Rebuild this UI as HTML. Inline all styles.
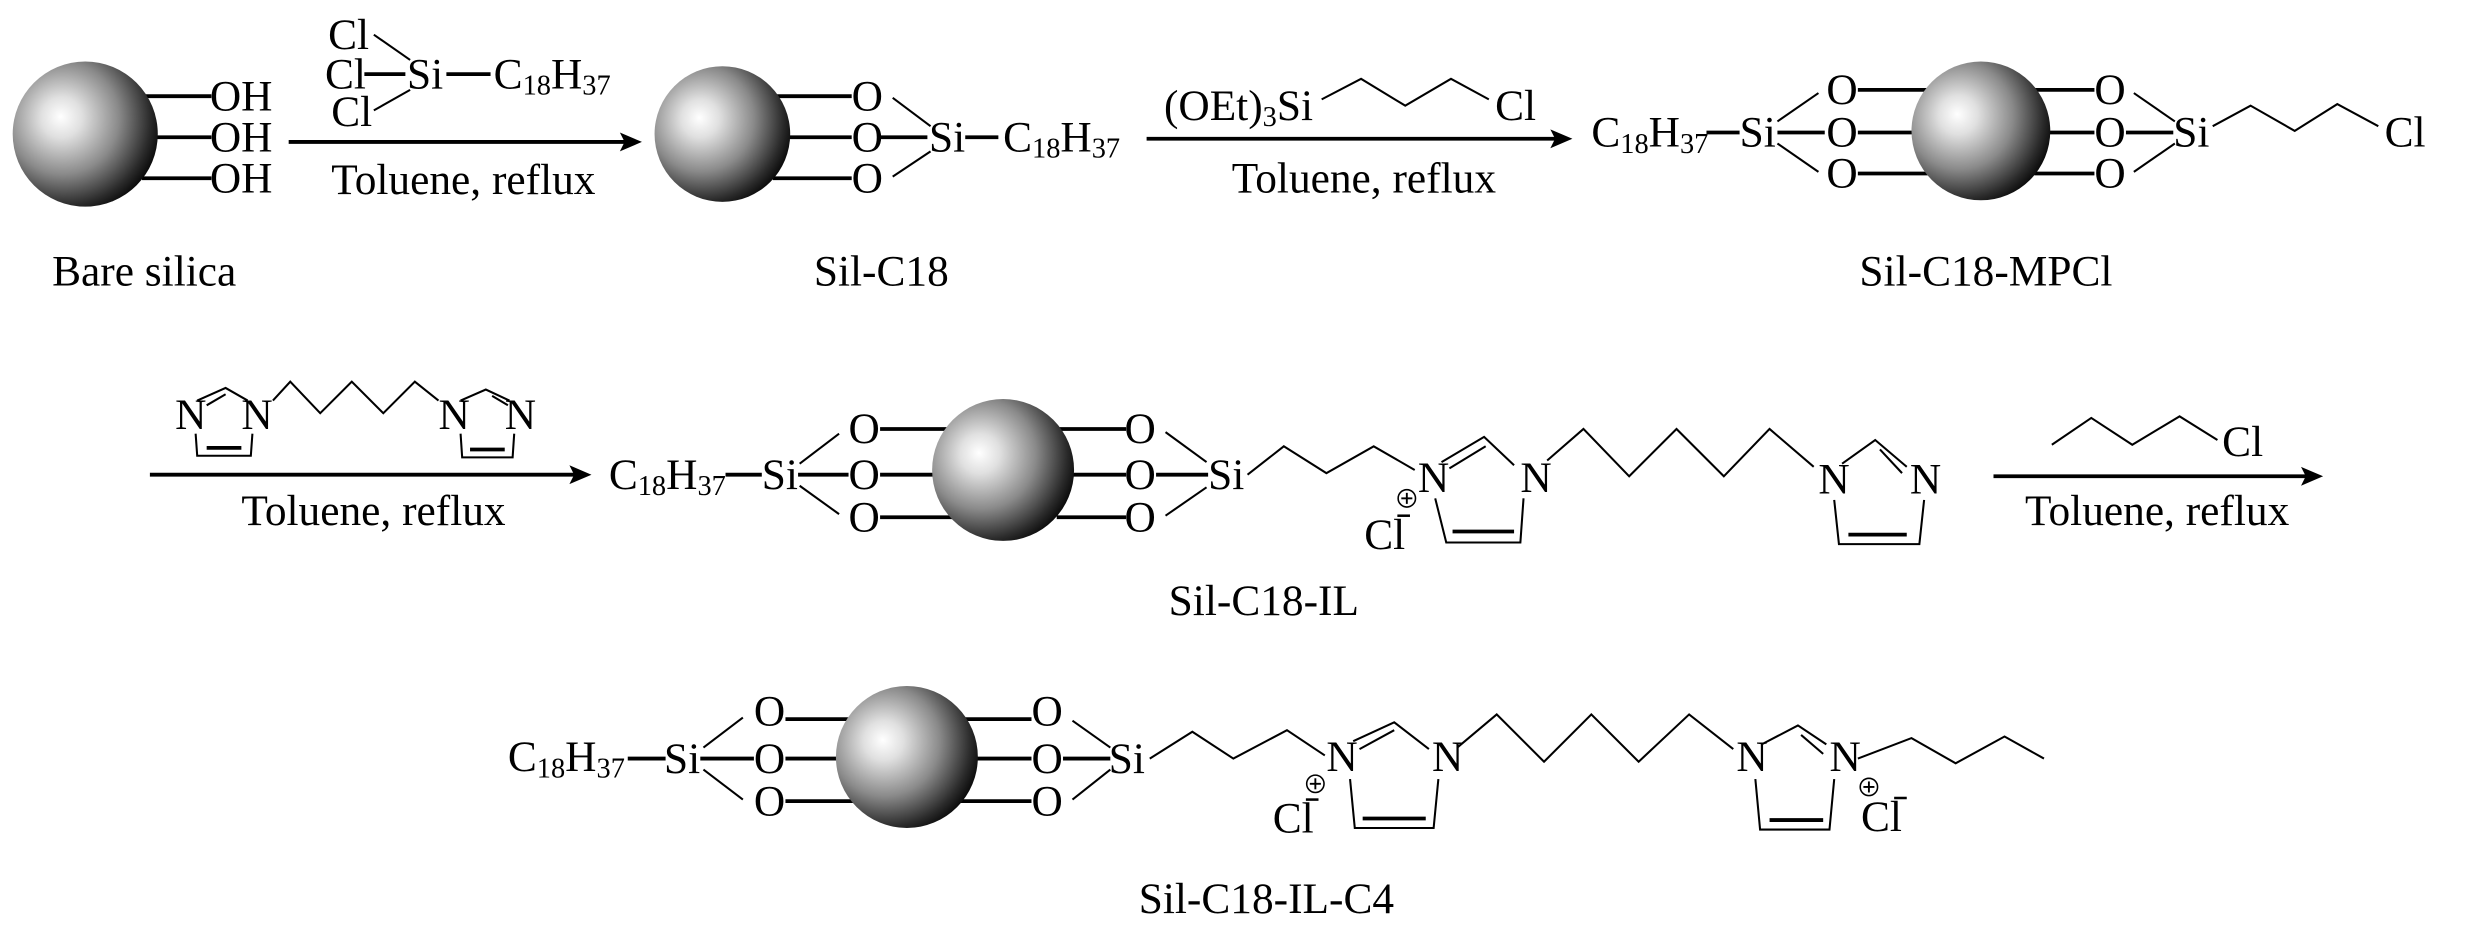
<!DOCTYPE html>
<html><head><meta charset="utf-8"><style>
html,body{margin:0;padding:0;background:#fff;}
svg{display:block;}
text{font-family:"Liberation Serif",serif;font-size:27.5px;fill:#000;}
.s{font-size:18px;}
.t{stroke:#000;stroke-width:1.3;fill:none;}
.b{stroke:#000;stroke-width:2.4;fill:none;}
</style></head><body>
<svg width="2473" height="930" viewBox="0 0 1568 589.7" xmlns="http://www.w3.org/2000/svg">
<defs>
<radialGradient id="g" cx="0.36" cy="0.4" r="0.7" fx="0.33" fy="0.38">
<stop offset="0" stop-color="#ffffff"/>
<stop offset="0.2" stop-color="#e0e0e0"/>
<stop offset="0.55" stop-color="#8a8a8a"/>
<stop offset="0.85" stop-color="#2a2a2a"/>
<stop offset="1" stop-color="#000"/>
</radialGradient>
</defs>

<!-- ROW 1: Bare silica -->
<g class="b"><line x1="90" y1="61" x2="134" y2="61"/><line x1="95" y1="87" x2="134" y2="87"/><line x1="90" y1="113" x2="134" y2="113"/></g>
<circle cx="54" cy="85" r="46" fill="url(#g)"/>
<text x="133" y="70">OH</text><text x="133" y="96">OH</text><text x="133" y="122">OH</text>
<text x="33" y="181">Bare silica</text>

<!-- arrow 1 -->
<line class="b" x1="183" y1="90" x2="398" y2="90"/><polygon points="407,90 393,84 396,90 393,96"/>
<text x="208" y="31">Cl</text>
<text x="206" y="56">Cl</text>
<text x="258" y="56">Si</text>
<text x="210" y="80">Cl</text>
<line class="b" x1="231" y1="47" x2="257" y2="47"/>
<line class="b" x1="283" y1="47" x2="311" y2="47"/>
<line class="t" x1="237" y1="22" x2="260" y2="38"/>
<line class="t" x1="260" y1="57" x2="237" y2="70"/>
<text x="313" y="56">C<tspan class="s" dy="4">18</tspan><tspan dy="-4">H</tspan><tspan class="s" dy="4">37</tspan></text>
<text x="210" y="123">Toluene, reflux</text>

<!-- Sil-C18 -->
<g class="b"><line x1="490" y1="61" x2="540" y2="61"/><line x1="495" y1="87" x2="540" y2="87"/><line x1="490" y1="113" x2="540" y2="113"/></g>
<circle cx="458" cy="85" r="43" fill="url(#g)"/>
<text x="540" y="70">O</text><text x="540" y="96">O</text><text x="540" y="122">O</text>
<line class="t" x1="566" y1="62" x2="590" y2="80"/>
<line class="t" x1="566" y1="112" x2="590" y2="96"/>
<line class="b" x1="558" y1="87" x2="588" y2="87"/>
<text x="589" y="96">Si</text>
<line class="b" x1="612" y1="87" x2="633" y2="87"/>
<text x="636" y="96">C<tspan class="s" dy="4">18</tspan><tspan dy="-4">H</tspan><tspan class="s" dy="4">37</tspan></text>
<text x="516" y="181">Sil-C18</text>

<!-- arrow 2 -->
<line class="b" x1="727" y1="88" x2="988" y2="88"/><polygon points="997,88 983,82 986,88 983,94"/>
<text x="738" y="76">(OEt)<tspan class="s" dy="4">3</tspan><tspan dy="-4">Si</tspan></text>
<polyline class="t" points="838,63 863,50 891,67 920,50 944,63"/>
<text x="948" y="76">Cl</text>
<text x="781" y="122">Toluene, reflux</text>

<!-- Sil-C18-MPCl -->
<text x="1009" y="93">C<tspan class="s" dy="4">18</tspan><tspan dy="-4">H</tspan><tspan class="s" dy="4">37</tspan></text>
<line class="b" x1="1082" y1="84" x2="1103" y2="84"/>
<text x="1103" y="93">Si</text>
<line class="t" x1="1127" y1="77" x2="1153" y2="59"/>
<line class="t" x1="1127" y1="91" x2="1153" y2="109"/>
<line class="b" x1="1127" y1="84" x2="1157" y2="84"/>
<text x="1158" y="66">O</text><text x="1158" y="93">O</text><text x="1158" y="119">O</text>
<g class="b"><line x1="1178" y1="57" x2="1225" y2="57"/><line x1="1178" y1="84" x2="1225" y2="84"/><line x1="1178" y1="110" x2="1225" y2="110"/>
<line x1="1290" y1="57" x2="1328" y2="57"/><line x1="1290" y1="84" x2="1328" y2="84"/><line x1="1290" y1="110" x2="1328" y2="110"/></g>
<circle cx="1256" cy="83" r="44" fill="url(#g)"/>
<text x="1328" y="66">O</text><text x="1328" y="93">O</text><text x="1328" y="119">O</text>
<line class="t" x1="1353" y1="59" x2="1379" y2="77"/>
<line class="t" x1="1353" y1="109" x2="1379" y2="91"/>
<line class="b" x1="1348" y1="84" x2="1378" y2="84"/>
<text x="1378" y="93">Si</text>
<polyline class="t" points="1403,80 1427,67 1455,83 1482,66 1508,80"/>
<text x="1512" y="93">Cl</text>
<text x="1179" y="181">Sil-C18-MPCl</text>

<!-- ROW 2 -->
<line class="b" x1="95" y1="301" x2="366" y2="301"/><polygon points="375,301 361,295 364,301 361,307"/>
<text x="111" y="272">N</text><text x="153" y="272">N</text>
<polyline class="t" points="125,254 143,246 157,254"/>
<line class="t" x1="131" y1="257" x2="143" y2="250"/>
<polyline class="t" points="124,275 125,289 159,289 160,275"/>
<line class="b" x1="131" y1="284" x2="153" y2="284"/>
<polyline class="t" points="173,254 184,242 203,262 223,242 243,262 263,242 278,254"/>
<text x="278" y="272">N</text><text x="320" y="272">N</text>
<polyline class="t" points="292,254 308,247 323,254"/>
<line class="t" x1="312" y1="251" x2="322" y2="257"/>
<polyline class="t" points="292,275 293,290 325,290 326,275"/>
<line class="b" x1="298" y1="285" x2="320" y2="285"/>
<text x="153" y="333">Toluene, reflux</text>

<!-- Sil-C18-IL -->
<text x="386" y="310">C<tspan class="s" dy="4">18</tspan><tspan dy="-4">H</tspan><tspan class="s" dy="4">37</tspan></text>
<line class="b" x1="460" y1="301" x2="483" y2="301"/>
<text x="483" y="310">Si</text>
<line class="t" x1="507" y1="294" x2="532" y2="275"/>
<line class="t" x1="507" y1="308" x2="532" y2="326"/>
<line class="b" x1="506" y1="301" x2="538" y2="301"/>
<text x="538" y="281">O</text><text x="538" y="310">O</text><text x="538" y="337">O</text>
<g class="b"><line x1="558" y1="272" x2="605" y2="272"/><line x1="558" y1="301" x2="605" y2="301"/><line x1="558" y1="328" x2="605" y2="328"/>
<line x1="670" y1="272" x2="714" y2="272"/><line x1="670" y1="301" x2="714" y2="301"/><line x1="670" y1="328" x2="714" y2="328"/></g>
<circle cx="636" cy="298" r="45" fill="url(#g)"/>
<text x="713" y="281">O</text><text x="713" y="310">O</text><text x="713" y="337">O</text>
<line class="t" x1="739" y1="274" x2="765" y2="293"/>
<line class="t" x1="739" y1="327" x2="765" y2="309"/>
<line class="b" x1="733" y1="301" x2="766" y2="301"/>
<text x="766" y="310">Si</text>
<polyline class="t" points="791,301 814,283 841,300 871,283 897,298"/>
<text x="899" y="312">N</text>
<polyline class="t" points="914,293 941,277 960,295"/>
<line class="t" x1="919" y1="297" x2="942" y2="283"/>
<polyline class="t" points="910,316 917,344 964,344 966,316"/>
<line class="b" x1="921" y1="337" x2="960" y2="337"/>
<text x="964" y="312">N</text>
<circle cx="892" cy="316" r="5.5" fill="none" stroke="#000" stroke-width="1"/>
<line x1="888.5" y1="316" x2="895.5" y2="316" stroke="#000" stroke-width="1.2"/><line x1="892" y1="312.5" x2="892" y2="319.5" stroke="#000" stroke-width="1.2"/>
<text x="865" y="348">Cl</text><line x1="886" y1="327" x2="894" y2="327" stroke="#000" stroke-width="1.6"/>
<polyline class="t" points="981,292 1004,272 1033,302 1063,272 1093,302 1122,272 1150,296"/>
<text x="1153" y="313">N</text>
<polyline class="t" points="1168,294 1189,279 1209,296"/>
<line class="t" x1="1192" y1="285" x2="1206" y2="300"/>
<polyline class="t" points="1163,317 1166,345 1217,345 1220,317"/>
<line class="b" x1="1172" y1="339" x2="1209" y2="339"/>
<text x="1211" y="313">N</text>
<text x="741" y="390">Sil-C18-IL</text>

<!-- arrow 3 -->
<line class="b" x1="1264" y1="302" x2="1464" y2="302"/><polygon points="1473,302 1459,296 1462,302 1459,308"/>
<polyline class="t" points="1301,282 1326,265 1352,282 1382,264 1406,279"/>
<text x="1409" y="289">Cl</text>
<text x="1284" y="333">Toluene, reflux</text>

<!-- ROW 3: Sil-C18-IL-C4 -->
<text x="322" y="489">C<tspan class="s" dy="4">18</tspan><tspan dy="-4">H</tspan><tspan class="s" dy="4">37</tspan></text>
<line class="b" x1="398" y1="481" x2="422" y2="481"/>
<text x="421" y="490">Si</text>
<line class="t" x1="446" y1="474" x2="471" y2="455"/>
<line class="t" x1="446" y1="488" x2="471" y2="507"/>
<line class="b" x1="444" y1="481" x2="478" y2="481"/>
<text x="478" y="460">O</text><text x="478" y="490">O</text><text x="478" y="517">O</text>
<g class="b"><line x1="498" y1="456" x2="545" y2="456"/><line x1="498" y1="481" x2="545" y2="481"/><line x1="498" y1="508" x2="545" y2="508"/>
<line x1="605" y1="456" x2="654" y2="456"/><line x1="605" y1="481" x2="654" y2="481"/><line x1="605" y1="508" x2="654" y2="508"/></g>
<circle cx="575" cy="480" r="45" fill="url(#g)"/>
<text x="654" y="460">O</text><text x="654" y="490">O</text><text x="654" y="517">O</text>
<line class="t" x1="680" y1="457" x2="704" y2="474"/>
<line class="t" x1="680" y1="507" x2="704" y2="488"/>
<line class="b" x1="674" y1="481" x2="704" y2="481"/>
<text x="703" y="490">Si</text>
<polyline class="t" points="729,481 756,464 782,481 816,463 840,479"/>
<text x="841" y="489">N</text>
<polyline class="t" points="858,470 884,458 906,475"/>
<line class="t" x1="862" y1="475" x2="884" y2="463"/>
<polyline class="t" points="856,494 859,525 909,525 912,494"/>
<line class="b" x1="864" y1="519" x2="904" y2="519"/>
<text x="908" y="489">N</text>
<circle cx="834" cy="497" r="5.5" fill="none" stroke="#000" stroke-width="1"/>
<line x1="830.5" y1="497" x2="837.5" y2="497" stroke="#000" stroke-width="1.2"/><line x1="834" y1="493.5" x2="834" y2="500.5" stroke="#000" stroke-width="1.2"/>
<text x="807" y="528">Cl</text><line x1="828" y1="507" x2="836" y2="507" stroke="#000" stroke-width="1.6"/>
<polyline class="t" points="924,474 949,453 979,483 1009,453 1039,483 1071,453 1099,475"/>
<text x="1101" y="489">N</text>
<polyline class="t" points="1117,472 1140,460 1158,472"/>
<line class="t" x1="1142" y1="466" x2="1156" y2="478"/>
<polyline class="t" points="1113,494 1116,526 1160,526 1163,494"/>
<line class="b" x1="1122" y1="520" x2="1156" y2="520"/>
<text x="1160" y="489">N</text>
<circle cx="1185" cy="499" r="5.5" fill="none" stroke="#000" stroke-width="1"/>
<line x1="1181.5" y1="499" x2="1188.5" y2="499" stroke="#000" stroke-width="1.2"/><line x1="1185" y1="495.5" x2="1185" y2="502.5" stroke="#000" stroke-width="1.2"/>
<text x="1180" y="527">Cl</text><line x1="1201" y1="506" x2="1209" y2="506" stroke="#000" stroke-width="1.6"/>
<polyline class="t" points="1178,481 1212,468 1240,484 1271,467 1296,481"/>
<text x="722" y="579">Sil-C18-IL-C4</text>
</svg>
</body></html>
